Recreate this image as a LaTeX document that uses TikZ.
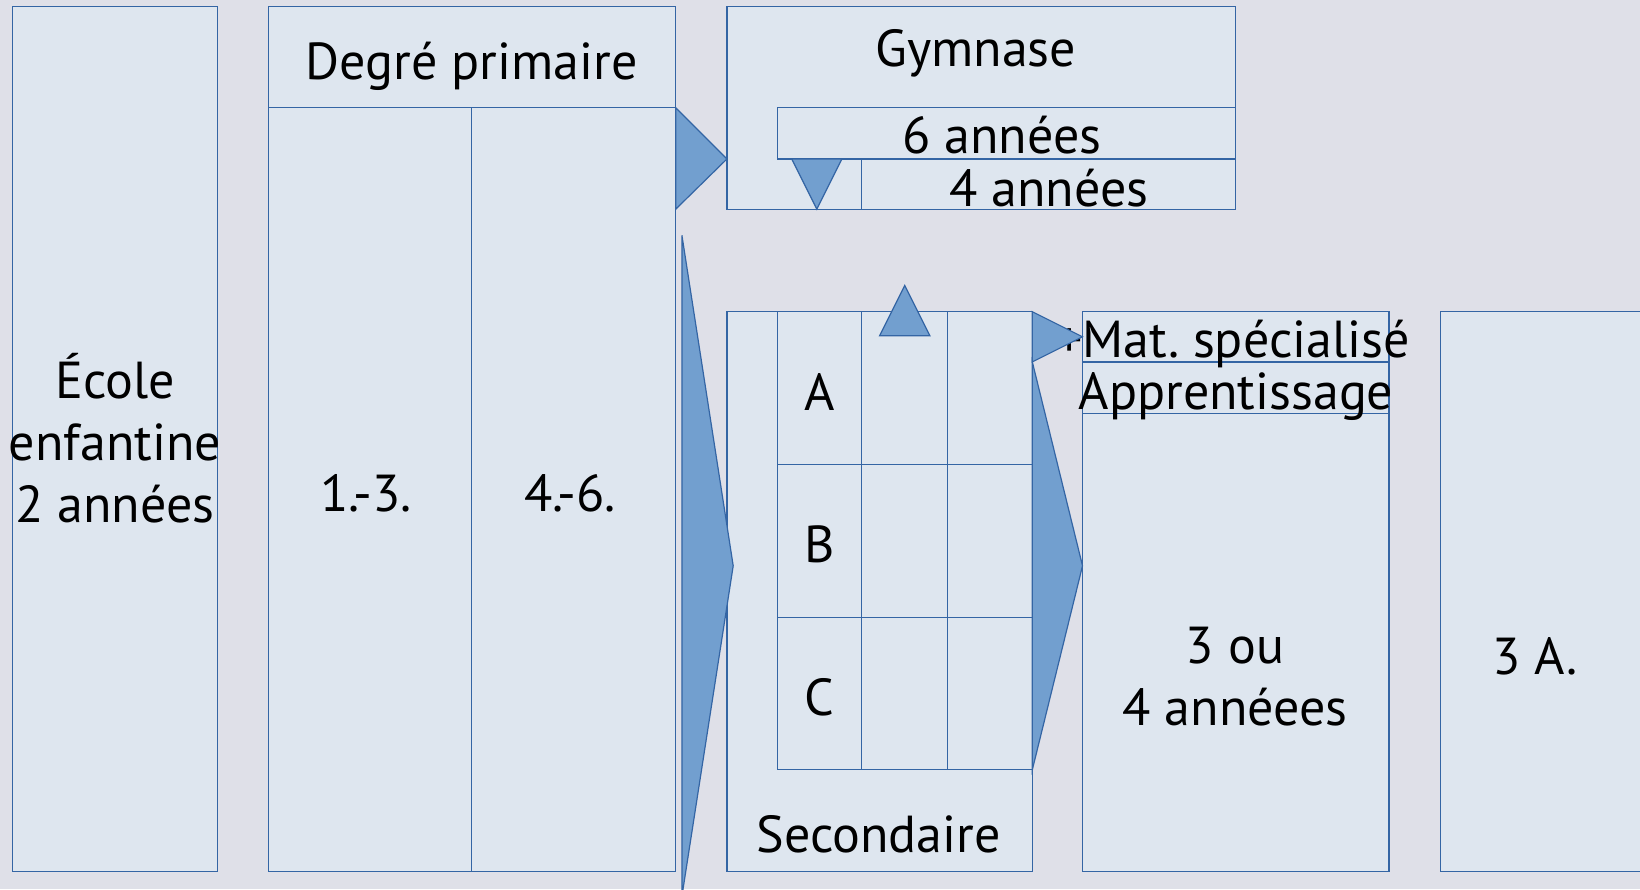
\documentclass[tikz,border=0pt]{standalone}
\usepackage{fontspec}
\setmainfont{PT Sans}
\usepackage{tikz}
\frenchspacing
\definecolor{bgcol}{HTML}{DFE0E8}
\definecolor{boxcol}{HTML}{DEE6EF}
\definecolor{linecol}{HTML}{3465A4}
\definecolor{arrcol}{HTML}{729FCF}

\begin{document}
\begin{tikzpicture}[x=1pt, y=-1pt,
  box/.style={draw=linecol, fill=boxcol, line width=1.2pt},
  sep/.style={draw=linecol, line width=1.2pt},
  tri/.style={draw=linecol, fill=arrcol, line width=1.2pt, line join=miter},
  lbl/.style={anchor=base, inner sep=0pt, font=\fontsize{52}{62}\selectfont, align=center}]
  % background and frame
  \fill[bgcol] (0,0) rectangle (1640,889);
  \useasboundingbox (0,0) rectangle (1640,889);
  % left columns
  \draw[box] (12.6,6.3) rectangle (217.5,871.2);
  \node[lbl] (ecole) at (115,522) {École\\enfantine\\2 années};
  \draw[box] (268.8,6.3) rectangle (675.7,871.2);
  \draw[sep] (268.8,107.7) -- (675.7,107.7); \draw[sep] (471.7,107.7) -- (471.7,871.2);
  \node[lbl] (prim) at (471.7,79.5) {Degré primaire};
  \node[lbl] (p13) at (366,511) {1.-3.};
  \node[lbl] (p46) at (570,511) {4.-6.};
  % gymnase
  \draw[box] (726.9,6.3) rectangle (1235.2,209.2);
  \draw[box] (777.1,107.7) rectangle (1235.2,159);
  \draw[box] (861.8,159) rectangle (1235.2,209.2);
  \node[lbl] (gym) at (975.8,66) {Gymnase};
  \node[lbl] (g6) at (1002,153.7) {6 années};
  \node[lbl] (g4) at (1049,206) {4 années};
  % secondaire with grid
  \draw[box] (726.9,311.7) rectangle (1032.3,871.2);
  \foreach \x in {777.1,861.8,947.6}{\draw[sep] (\x,311.7) -- (\x,769.8);}
  \foreach \y in {464.4,617.1,769.8}{\draw[sep] (777.1,\y) -- (1032.3,\y);}
  \node[lbl] (secA) at (819.5,410) {A};
  \node[lbl] (secB) at (819.5,562.7) {B};
  \node[lbl] (secC) at (819.5,715.4) {C};
  \node[lbl] (sec) at (878.6,852.4) {Secondaire};
  % maturite / apprentissage
  \draw[box] (1082.5,311.7) rectangle (1388.9,871.2);
  \draw[sep] (1082.5,361.9) -- (1388.9,361.9); \draw[sep] (1082.5,413.1) -- (1388.9,413.1);
  \node[lbl] (mat) at (1233,357.7) {+Mat. spécialisé};
  \node[lbl] (app) at (1236,409) {Apprentissage};
  \node[lbl] (dur) at (1235,725.8) {3 ou\\4 annéees};
  \draw[box] (1440.2,311.7) rectangle (1660,871.2);
  \node[lbl] (tert) at (1535,674.6) {3 A.};
  % transition arrows
  \draw[tri] (675.7,107.7) -- (726.9,159) -- (675.7,209.2) -- cycle;
  \draw[tri] (791.7,159) -- (841.9,159) -- (816.8,209.2) -- cycle;
  \draw[tri] (681.9,235.3) -- (733.2,565.8) -- (681.9,896.3) -- cycle;
  \draw[tri] (879.6,335.7) -- (929.8,335.7) -- (904.7,285.5) -- cycle;
  \draw[tri] (1032.3,311.7) -- (1082.5,336.8) -- (1032.3,361.9) -- cycle;
  \draw[tri] (1032.3,361.9) -- (1082.5,565.8) -- (1032.3,769.8) -- cycle;
\end{tikzpicture}
\end{document}
